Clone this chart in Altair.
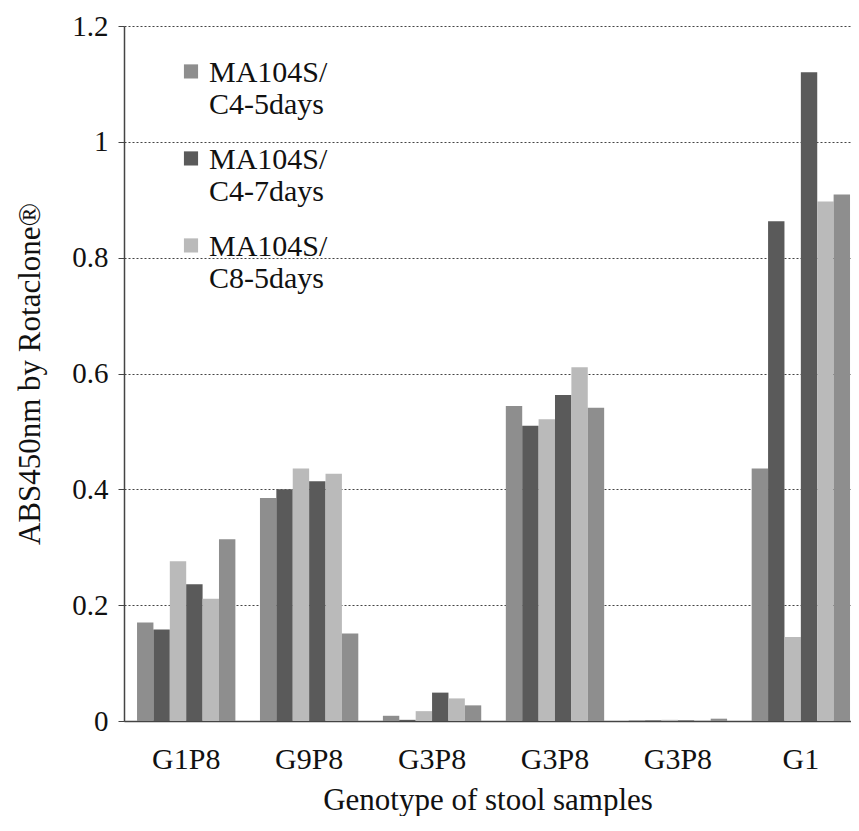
import altair as alt
import pandas as pd

# ---- data ----
groups = ["G1P8", "G9P8", "G3P8", "G3P8", "G3P8", "G1"]
conditions = ["MA104S/C4-5days", "MA104S/C4-7days", "MA104S/C8-5days"]
# condition (colour) of each of the six bars inside a group
bar_condition = [0, 1, 2, 1, 2, 0]

g1p8_a = [0.170, 0.158, 0.276, 0.236, 0.211, 0.314]
g9p8 = [0.385, 0.400, 0.436, 0.414, 0.427, 0.151]
g3p8_a = [0.009, 0.002, 0.017, 0.049, 0.039, 0.027]
g3p8_b = [0.544, 0.510, 0.521, 0.563, 0.611, 0.541]
g3p8_c = [0.001, 0.001, 0.002, 0.001, 0.001, 0.004]
g1_a = [0.436, 0.863, 0.145, 1.120, 0.897, 0.909]
group_values = [g1p8_a, g9p8, g3p8_a, g3p8_b, g3p8_c, g1_a]

y_ticks = [0, 0.2, 0.4, 0.6, 0.8, 1.0, 1.2]
colors = ["#8e8e8e", "#5a5a5a", "#bababa"]

rows = []
for gi, vals in enumerate(group_values):
    for bi, v in enumerate(vals):
        rows.append({"group": gi, "bar": bi,
                     "condition": conditions[bar_condition[bi]], "value": v})
df = pd.DataFrame(rows)

FONT = "Liberation Serif, DejaVu Serif, Noto Serif, Times New Roman, serif"
label_expr = "[" + ",".join("'%s'" % g for g in groups) + "][datum.value]"

chart = alt.Chart(df).mark_bar().encode(
    x=alt.X("group:O", title="Genotype of stool samples",
            scale=alt.Scale(paddingInner=0.2, paddingOuter=0.057, align=0.93),
            axis=alt.Axis(labelExpr=label_expr, labelAngle=0, ticks=False,
                          labelPadding=23, labelFont=FONT, labelFontSize=30,
                          labelColor="#111", domainColor="#444", domainWidth=1.5,
                          titleFont=FONT, titleFontSize=31, titleFontWeight="normal",
                          titleColor="#111", titlePadding=11)),
    xOffset=alt.XOffset("bar:O", scale=alt.Scale(paddingInner=0, paddingOuter=0)),
    y=alt.Y("value:Q", title="ABS450nm by Rotaclone®",
            scale=alt.Scale(domain=[0, 1.2], nice=False),
            axis=alt.Axis(values=y_ticks, format=".1~f", labelFont=FONT,
                          labelFontSize=29, labelColor="#111", labelPadding=10,
                          tickSize=6, tickColor="#444", domainColor="#444",
                          domainWidth=1.5, gridColor="#444", gridDash=[2, 2],
                          gridWidth=1, titleFont=FONT, titleFontSize=31,
                          titleFontWeight="normal", titleColor="#111",
                          titleX=-94, titleBaseline="middle")),
    color=alt.Color("condition:N",
                    scale=alt.Scale(domain=conditions, range=colors),
                    legend=alt.Legend(title=None, orient="none", legendX=52,
                                      legendY=17,
                                      symbolType="M-1,0.9H1V2.9H-1Z",
                                      symbolSize=200, symbolStrokeWidth=0,
                                      labelFont=FONT, labelFontSize=30,
                                      labelColor="#111", labelBaseline="top",
                                      labelLimit=400, labelOffset=3,
                                      rowPadding=10,
                                      labelExpr="split(replace(datum.label, '/', '/|'), '|')")),
).properties(
    width=727, height=695,
    padding={"left": 116, "top": 18, "right": 0, "bottom": 95},
    autosize=alt.AutoSizeParams(type="none"),
).configure_view(stroke=None)

chart.save("out.html", embed_options={"renderer": "svg", "actions": False})
